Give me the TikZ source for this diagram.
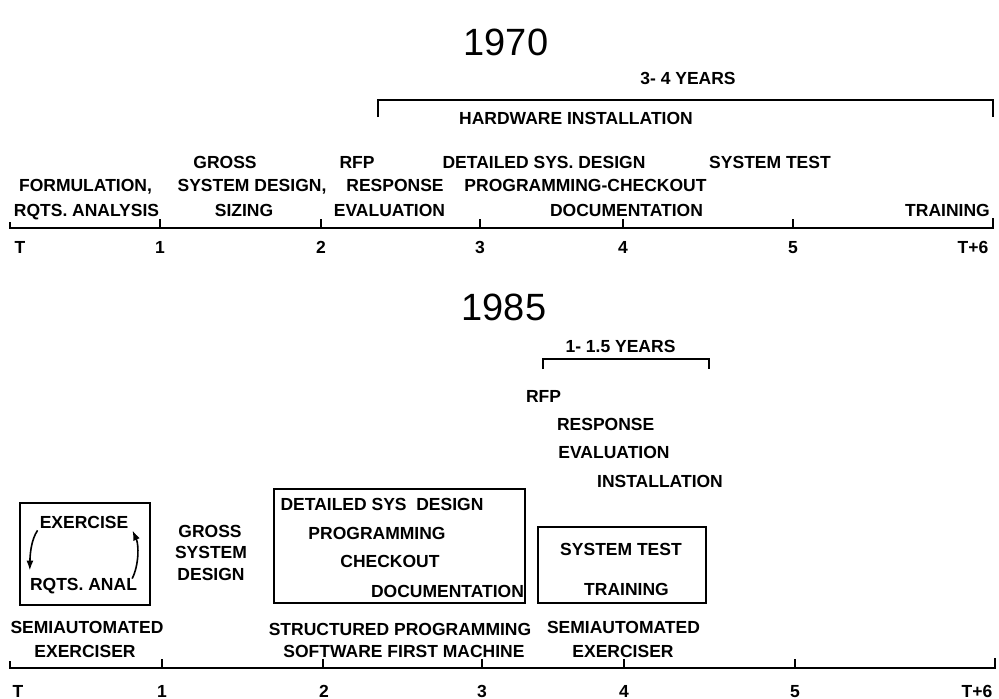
\documentclass[tikz,border=0pt]{standalone}
\usepackage{fontspec}
\setmainfont{Liberation Sans}
\usetikzlibrary{arrows.meta}
\begin{document}
\begin{tikzpicture}[x=1pt,y=-1pt,
  lbl/.style={font=\fontsize{17.5}{20}\selectfont\bfseries, inner sep=0pt, anchor=base},
  ttl/.style={font=\fontsize{38}{42}\selectfont, inner sep=0pt, anchor=base},
  tl/.style={line width=1.7pt},
  bx/.style={line width=1.7pt},
  arr/.style={line width=1.6pt, -{Latex[length=10pt,width=7pt]}}]
\useasboundingbox (0,0) rectangle (999,699);
% ---------------- 1970 ----------------
\node[ttl] (t70) at (506,55) {1970};
\node[lbl] (yrs70) at (688,84) {3- 4 YEARS};
\draw[tl] (378,117) -- (378,100) -- (993,100) -- (993,117);
\node[lbl] (hw) at (576,124) {HARDWARE INSTALLATION};
\node[lbl] (f1) at (85.5,191) {FORMULATION,};
\node[lbl] (f2) at (86.5,216) {RQTS. ANALYSIS};
\node[lbl] (g1) at (225,168) {GROSS};
\node[lbl] (g2) at (252,191) {SYSTEM DESIGN,};
\node[lbl] (g3) at (244,216) {SIZING};
\node[lbl] (r1) at (357,168) {RFP};
\node[lbl] (r2) at (395,191) {RESPONSE};
\node[lbl] (r3) at (389.5,216) {EVALUATION};
\node[lbl] (d1) at (544,168) {DETAILED SYS. DESIGN};
\node[lbl] (d2) at (585.5,191) {PROGRAMMING-CHECKOUT};
\node[lbl] (d3) at (626.5,216) {DOCUMENTATION};
\node[lbl] (s1) at (770,168) {SYSTEM TEST};
\node[lbl] (s2) at (947.5,216) {TRAINING};
\draw[tl] (10,222) -- (10,228) -- (993,228) -- (993,218);
\foreach \x in {160,321,480,623,793} \draw[tl] (\x,228) -- (\x,219);
\node[lbl] (a0) at (20,253) {T};
\node[lbl] (a1) at (160,253) {1};
\node[lbl] (a2) at (321,253) {2};
\node[lbl] (a3) at (480,253) {3};
\node[lbl] (a4) at (623,253) {4};
\node[lbl] (a5) at (793,253) {5};
\node[lbl] (a6) at (973,253) {T+6};
% ---------------- 1985 ----------------
\node[ttl] (t85) at (504,320) {1985};
\node[lbl] (yrs85) at (620.5,352) {1- 1.5 YEARS};
\draw[tl] (543,369) -- (543,359) -- (709,359) -- (709,369);
\node[lbl] (q1) at (543.5,402) {RFP};
\node[lbl] (q2) at (605.7,430) {RESPONSE};
\node[lbl] (q3) at (614,458) {EVALUATION};
\node[lbl] (q4) at (660,487) {INSTALLATION};
% box 1
\draw[bx] (20,503) rectangle (150,605);
\node[lbl] (ex) at (84,528) {EXERCISE};
\node[lbl] (rq) at (83.5,590) {RQTS. ANAL};
\draw[arr] ([shift={(-2,2)}]ex.south west) .. controls (31,540) and (30,555) .. ([shift={(0,-7)}]rq.north west);
\draw[arr] ([shift={(-5,1)}]rq.north east) .. controls (139,565) and (139,545) .. ([shift={(4,2)}]ex.south east);
\node[lbl] (gg1) at (210,537) {GROSS};
\node[lbl] (gg2) at (211,558) {SYSTEM};
\node[lbl] (gg3) at (211,580) {DESIGN};
% box 2
\draw[bx] (274,489) rectangle (525,603);
\node[lbl] (b1) at (382,510) {DETAILED SYS\ \ DESIGN};
\node[lbl] (b2) at (377,539) {PROGRAMMING};
\node[lbl] (b3) at (390,567) {CHECKOUT};
\node[lbl] (b4) at (447.5,597) {DOCUMENTATION};
% box 3
\draw[bx] (538,527) rectangle (706,603);
\node[lbl] (c1) at (621,555) {SYSTEM TEST};
\node[lbl] (c2) at (626.5,595) {TRAINING};
% bottom labels
\node[lbl] (l1) at (87,633) {SEMIAUTOMATED};
\node[lbl] (l2) at (85,657) {EXERCISER};
\node[lbl] (m1) at (400,635) {STRUCTURED PROGRAMMING};
\node[lbl] (m2) at (404,657) {SOFTWARE FIRST MACHINE};
\node[lbl] (n1) at (623.5,633) {SEMIAUTOMATED};
\node[lbl] (n2) at (623,657) {EXERCISER};
\draw[tl] (10,661) -- (10,668) -- (995,668) -- (995,658);
\foreach \x in {162,323,482,624,795} \draw[tl] (\x,668) -- (\x,659);
\node[lbl] (e0) at (18,697) {T};
\node[lbl] (e1) at (162,697) {1};
\node[lbl] (e2) at (324,697) {2};
\node[lbl] (e3) at (482,697) {3};
\node[lbl] (e4) at (624,697) {4};
\node[lbl] (e5) at (795,697) {5};
\node[lbl] (e6) at (977,697) {T+6};
\end{tikzpicture}
\end{document}
